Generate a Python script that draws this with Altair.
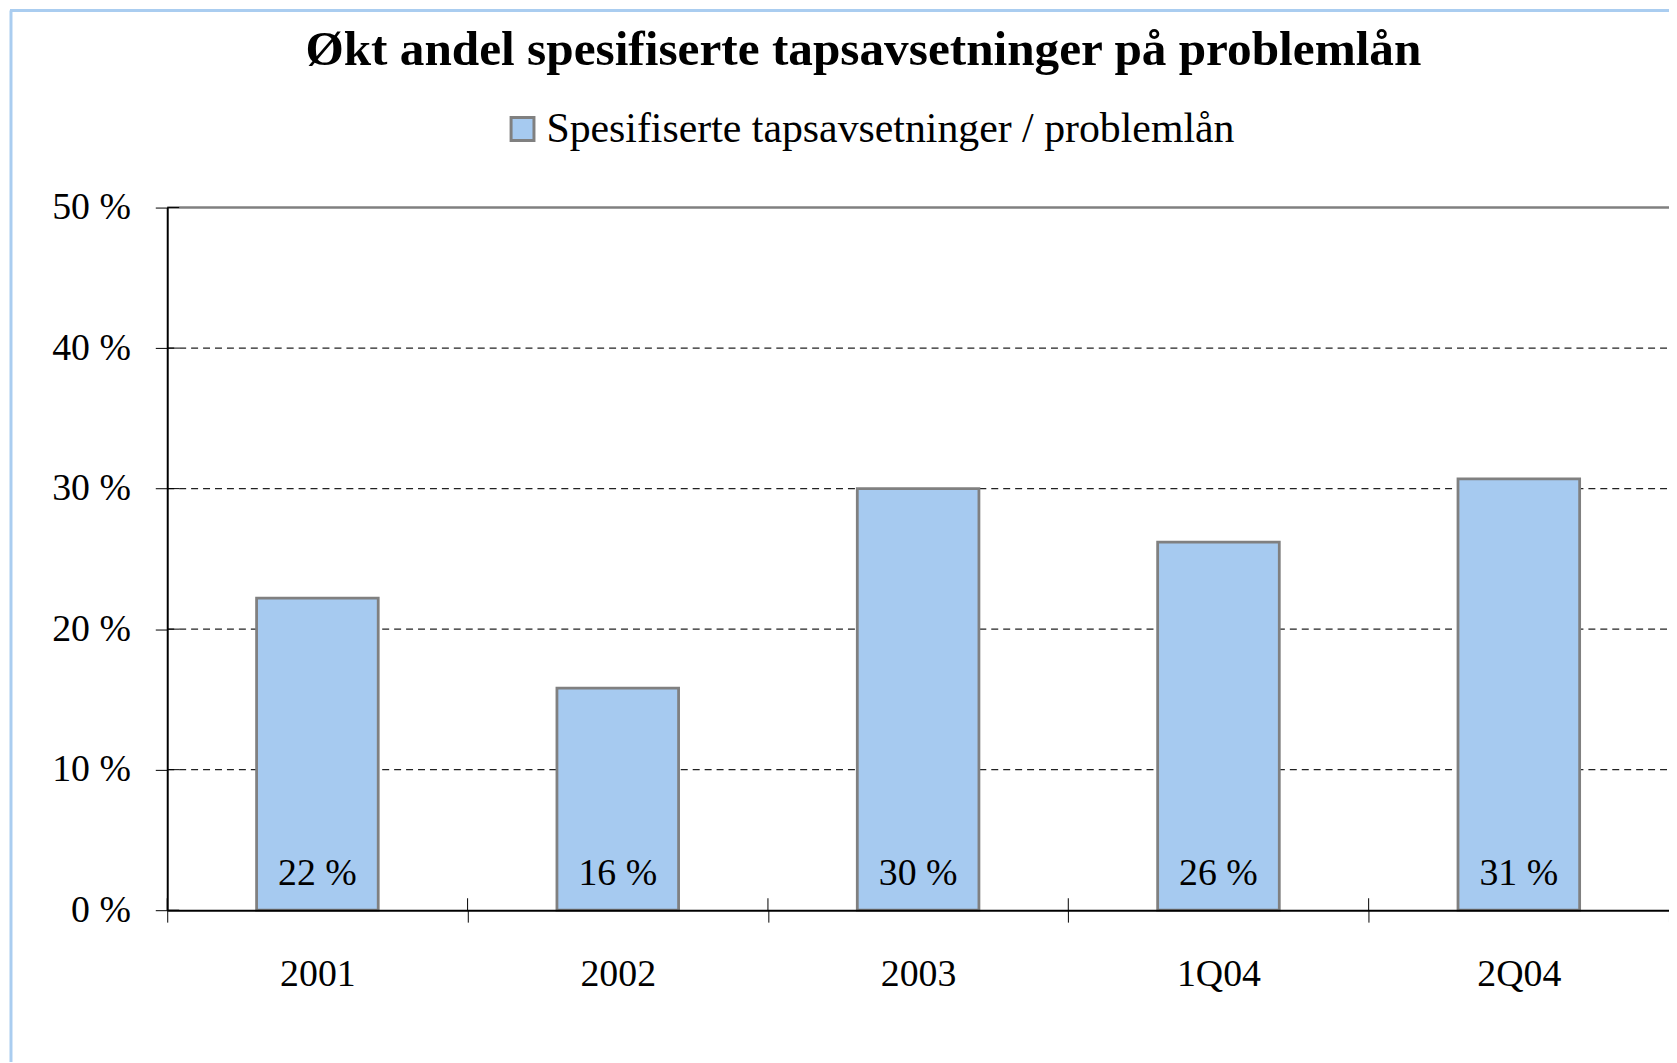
import altair as alt
import pandas as pd

categories = ["2001", "2002", "2003", "1Q04", "2Q04"]
values = [22.2, 15.8, 30.0, 26.2, 30.7]
labels = ["22 %", "16 %", "30 %", "26 %", "31 %"]
series_name = "Spesifiserte tapsavsetninger / problemlån"
grid_values = [10, 20, 30, 40]
tick_values = [0, 10, 20, 30, 40, 50]
top_value = [50]

FONT = "Liberation Serif"
W, H = 1509, 706

bars_df = pd.DataFrame({"cat": categories, "value": values, "label": labels,
                        "series": [series_name] * len(categories)})
grid_df = pd.DataFrame({"g": grid_values})
ticks_df = pd.DataFrame({"t": tick_values})
top_df = pd.DataFrame({"t": top_value})
cat_df = pd.DataFrame({"cat": categories})

yscale = alt.Scale(domain=[0, 50], nice=False)
xscale = alt.Scale(paddingInner=0, paddingOuter=0)

x_enc = alt.X("cat:N", sort=categories, scale=xscale, title=None,
              axis=alt.Axis(tickBand="extent", labelAngle=0, labelFont=FONT,
                            labelFontSize=38, labelColor="black", labelPadding=34,
                            tickSize=12, tickColor="black", tickWidth=1,
                            domainColor="black", domainWidth=2, zindex=1))
y_enc = alt.Y("value:Q", scale=yscale, title=None,
              axis=alt.Axis(values=tick_values, labelExpr="datum.value + ' %'",
                            labelFont=FONT, labelFontSize=38, labelColor="black",
                            labelPadding=25, tickSize=12, tickColor="black",
                            tickWidth=1, domainColor="black", domainWidth=2,
                            grid=False, zindex=1))

grid = alt.Chart(grid_df).mark_rule(color="#222222", strokeWidth=1.2, strokeDash=[7, 5]).encode(
    y=alt.Y("g:Q", scale=yscale),
    x=alt.value(0), x2=alt.value(W))

bars = alt.Chart(bars_df).mark_bar(width=alt.RelativeBandSize(0.405), stroke="#808080",
                                   strokeWidth=2.8).encode(
    x=x_enc, y=y_enc,
    fill=alt.Fill("series:N", scale=alt.Scale(range=["#A6CAF0"]), title=None,
                  legend=alt.Legend(orient="none", legendX=336, legendY=-100,
                                    direction="horizontal", symbolType="square",
                                    symbolSize=529, symbolStrokeColor="#808080",
                                    symbolStrokeWidth=3, labelFont=FONT,
                                    labelFontSize=42, labelColor="black",
                                    labelOffset=3, labelLimit=1000, padding=0)))

text = alt.Chart(bars_df).mark_text(font=FONT, fontSize=38, color="black", dy=-25,
                                    baseline="alphabetic", align="center").encode(
    x=alt.X("cat:N", sort=categories),
    y=alt.Y("zero:Q", scale=yscale),
    text="label:N").transform_calculate(zero="0")

top_border = alt.Chart(top_df).mark_rule(color="#808080", strokeWidth=2.5).encode(
    y=alt.Y("t:Q", scale=yscale), x=alt.value(0), x2=alt.value(W))

ytick_inner = alt.Chart(ticks_df).mark_rule(color="black", strokeWidth=1).encode(
    y=alt.Y("t:Q", scale=yscale), x=alt.value(0), x2=alt.value(12))

xtick_inner = alt.Chart(cat_df).mark_rule(color="black", strokeWidth=1).encode(
    x=alt.X("cat:N", sort=categories, bandPosition=0),
    y=alt.value(H - 12), y2=alt.value(H))

frame_left = alt.Chart(top_df).mark_rule(color="#AACDF0", strokeWidth=3).encode(
    x=alt.value(-157), y=alt.value(-198), y2=alt.value(860))
frame_top = alt.Chart(top_df).mark_rule(color="#AACDF0", strokeWidth=3).encode(
    x=alt.value(-158), x2=alt.value(W + 5), y=alt.value(-198))

chart = alt.layer(grid, bars, text, top_border, ytick_inner, xtick_inner,
                  frame_left, frame_top).properties(
    width=W, height=H,
    title=alt.Title("Økt andel spesifiserte tapsavsetninger på problemlån",
                    font=FONT, fontSize=49.5, fontWeight="bold", color="black",
                    anchor="middle", dx=-55, dy=106, offset=0, baseline="alphabetic"),
    autosize=alt.AutoSizeParams(type="none"),
    padding={"left": 160, "top": 198, "right": 0, "bottom": 150},
    background="white",
).configure_view(stroke=None)

chart.save("out.html", embed_options={"renderer": "svg", "actions": False})
